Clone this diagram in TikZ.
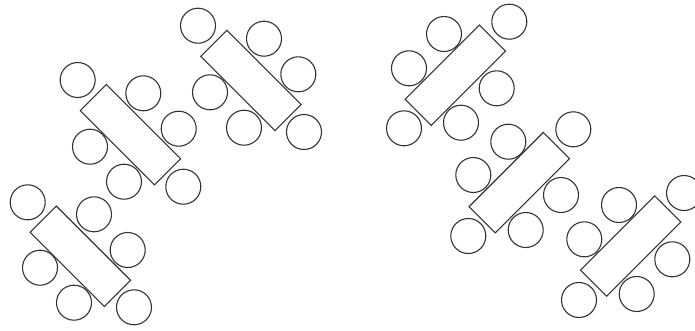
\documentclass[tikz,border=0pt]{standalone}
\begin{document}
\begin{tikzpicture}[x=1pt,y=-1pt,
  tablebox/.style={draw=black!80,line width=1.1pt,rectangle,minimum width=105pt,minimum height=37pt,inner sep=0pt},
  chair/.style={draw=black!80,line width=1.1pt,circle,minimum size=35pt,inner sep=0pt}]
\useasboundingbox (0,0) rectangle (695,330);
% tables
\node[tablebox,rotate=-45] (t1) at (80.4,256.3) {};
\node[tablebox,rotate=-45] (t2) at (130.5,134.7) {};
\node[tablebox,rotate=-45] (t3) at (250.9,80.4) {};
\node[tablebox,rotate=45] (t4) at (455.3,75.2) {};
\node[tablebox,rotate=45] (t5) at (519.3,182.6) {};
\node[tablebox,rotate=45] (t6) at (630.7,246) {};
% chairs table 1
\node[chair] (c1a) at (27.7,202.3) {};
\node[chair] (c1b) at (94,214.3) {};
\node[chair] (c1c) at (127.7,250) {};
\node[chair] (c1d) at (40,267.7) {};
\node[chair] (c1e) at (74,302.7) {};
\node[chair] (c1f) at (134,307.3) {};
% chairs table 2
\node[chair] (c2a) at (77.7,80) {};
\node[chair] (c2b) at (143.3,93.3) {};
\node[chair] (c2c) at (178.7,128.7) {};
\node[chair] (c2d) at (90,146.7) {};
\node[chair] (c2e) at (124,181.7) {};
\node[chair] (c2f) at (183.3,186.7) {};
% chairs table 3
\node[chair] (c3a) at (198,25.7) {};
\node[chair] (c3b) at (264,38.7) {};
\node[chair] (c3c) at (298.3,74.3) {};
\node[chair] (c3d) at (210,92.3) {};
\node[chair] (c3e) at (244,127.7) {};
\node[chair] (c3f) at (304,132) {};
% chairs table 4
\node[chair] (c4a) at (444,34) {};
\node[chair] (c4b) at (509.3,21.7) {};
\node[chair] (c4c) at (409,68.3) {};
\node[chair] (c4d) at (496.7,88.3) {};
\node[chair] (c4e) at (404,128.3) {};
\node[chair] (c4f) at (461,122.7) {};
% chairs table 5
\node[chair] (c5a) at (508.3,141.7) {};
\node[chair] (c5b) at (573.3,129.3) {};
\node[chair] (c5c) at (473.3,175) {};
\node[chair] (c5d) at (561,195) {};
\node[chair] (c5e) at (468.3,236) {};
\node[chair] (c5f) at (525.7,230) {};
% chairs table 6
\node[chair] (c6a) at (619,205) {};
\node[chair] (c6b) at (684,193) {};
\node[chair] (c6c) at (584.3,239.3) {};
\node[chair] (c6d) at (672.3,259.3) {};
\node[chair] (c6e) at (579,300) {};
\node[chair] (c6f) at (636.7,294) {};
\end{tikzpicture}
\end{document}
